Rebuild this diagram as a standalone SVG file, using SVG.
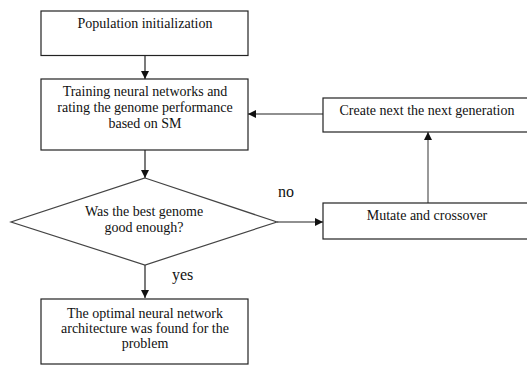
<svg xmlns="http://www.w3.org/2000/svg" width="527" height="365" viewBox="0 0 527 365">
<style>
  .box { fill: #ffffff; stroke: #222222; stroke-width: 1.2; }
  .dia { fill: #ffffff; stroke: #444444; stroke-width: 1.2; }
  .t { font-family: "Liberation Serif", "Times New Roman", serif; font-size: 14px; fill: #111111; text-anchor: middle; }
  .lbl { font-family: "Liberation Serif", "Times New Roman", serif; font-size: 16px; fill: #111111; }
  .c { fill: none; stroke: #222222; stroke-width: 1.2; }
  .g { stroke: #555555; }
</style>
<defs>
  <marker id="ah" viewBox="0 0 10 10" refX="10" refY="5" markerWidth="8" markerHeight="8" markerUnits="userSpaceOnUse" orient="auto">
    <path d="M0,0 L10,5 L0,10 z" fill="#111111"/>
  </marker>
</defs>
<rect width="527" height="365" fill="#ffffff"/>

<g id="connectors">
  <line class="c" x1="145" y1="56" x2="145" y2="79" marker-end="url(#ah)"/>
  <line class="c" x1="145" y1="150" x2="145" y2="178" marker-end="url(#ah)"/>
  <line class="c" x1="145" y1="265" x2="145" y2="298" marker-end="url(#ah)"/>
  <line class="c" x1="277" y1="222" x2="323" y2="222" marker-end="url(#ah)"/>
  <line class="c g" x1="428" y1="203" x2="428" y2="132" marker-end="url(#ah)"/>
  <line class="c" x1="323" y1="114" x2="248" y2="114" marker-end="url(#ah)"/>
  <text class="lbl" x="278" y="197">no</text>
  <text class="lbl" x="172" y="280">yes</text>
</g>

<g id="population-init">
  <rect class="box" x="41" y="11" width="207" height="44.5"/>
  <text class="t" x="145" y="27.5">Population initialization</text>
</g>

<g id="training">
  <rect class="box" x="41" y="79" width="207" height="71"/>
  <text class="t" x="145" y="96">Training neural networks and</text>
  <text class="t" x="145" y="112">rating the genome performance</text>
  <text class="t" x="145" y="128">based on SM</text>
</g>

<g id="decision">
  <polygon class="dia" points="145,178 277,222 145,265 11,222"/>
  <text class="t" x="144" y="216">Was the best genome</text>
  <text class="t" x="144" y="232">good enough?</text>
</g>

<g id="optimal-found">
  <rect class="box" x="41" y="299" width="207" height="65"/>
  <text class="t" x="145" y="318">The optimal neural network</text>
  <text class="t" x="145" y="333">architecture was found for the</text>
  <text class="t" x="145" y="348">problem</text>
</g>

<g id="create-next">
  <rect class="box" x="323" y="98" width="210" height="34"/>
  <text class="t" x="427" y="115">Create next the next generation</text>
</g>

<g id="mutate">
  <rect class="box" x="323" y="203" width="210" height="36"/>
  <text class="t" x="427" y="220">Mutate and crossover</text>
</g>
</svg>
